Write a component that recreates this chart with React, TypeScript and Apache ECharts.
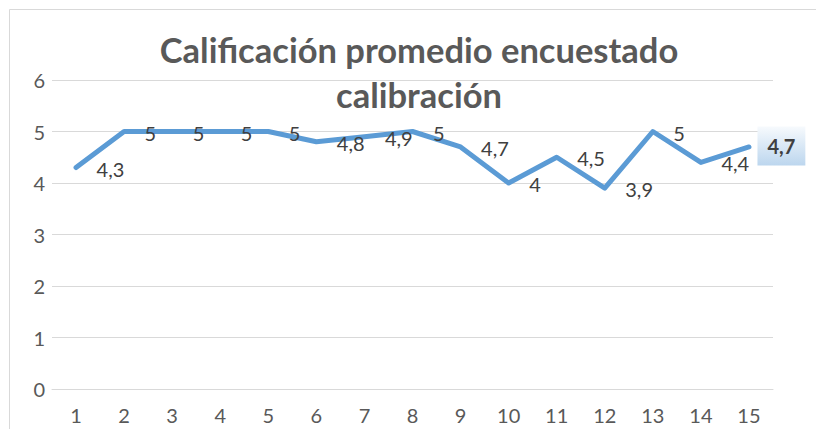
import React, { useEffect, useRef } from "react";
import * as echarts from "echarts";

const categories = ["1", "2", "3", "4", "5", "6", "7", "8", "9", "10", "11", "12", "13", "14", "15"];
const values = [4.3, 5, 5, 5, 5, 4.8, 4.9, 5, 4.7, 4, 4.5, 3.9, 5, 4.4, 4.7];
const yTicks = [0, 1, 2, 3, 4, 5, 6];
const titleText = "Calificación promedio encuestado\ncalibración";

const FONT = "Lato, 'Open Sans', sans-serif";

export default function App() {
  const ref = useRef<HTMLDivElement>(null);
  useEffect(() => {
    if (!ref.current) return;
    const chart = echarts.init(ref.current, undefined, { renderer: "svg" });
    const last = values.length - 1;
    const data = values.map((v, i) =>
      i === last
        ? {
            value: v,
            label: {
              fontWeight: "bold",
              color: "#404040",
              distance: 8,
              offset: [0, -1],
              padding: [10, 10, 9, 10],
              backgroundColor: {
                type: "linear",
                x: 0,
                y: 0,
                x2: 0,
                y2: 1,
                colorStops: [
                  { offset: 0, color: "#f7fafd" },
                  { offset: 1, color: "#bcd6ee" },
                ],
              },
            },
          }
        : v
    );
    chart.setOption({
      animation: false,
      backgroundColor: "#ffffff",
      textStyle: { fontFamily: FONT },
      title: {
        text: titleText,
        left: 414,
        textAlign: "center",
        top: 22,
        textStyle: {
          fontFamily: FONT,
          fontSize: 34.5,
          fontWeight: "bold",
          color: "#595959",
          lineHeight: 45,
        },
      },
      graphic: [
        {
          type: "rect",
          shape: { x: 9.5, y: 9.5, width: 900, height: 600 },
          style: { fill: "none", stroke: "#d9d9d9", lineWidth: 1 },
          silent: true,
          z: -10,
        },
      ],
      grid: { left: 52, right: 43, top: 80, bottom: 40, containLabel: false },
      xAxis: {
        type: "category",
        data: categories,
        boundaryGap: true,
        axisLine: { show: true, lineStyle: { color: "#d9d9d9", width: 1 } },
        axisTick: { show: false },
        axisLabel: { color: "#595959", fontSize: 20, margin: 16, fontFamily: FONT },
        splitLine: { show: false },
      },
      yAxis: {
        type: "value",
        min: yTicks[0],
        max: yTicks[yTicks.length - 1],
        interval: 1,
        axisLine: { show: false },
        axisTick: { show: false },
        axisLabel: { color: "#595959", fontSize: 20, margin: 7, fontFamily: FONT },
        splitLine: { lineStyle: { color: "#d9d9d9", width: 1 } },
      },
      series: [
        {
          type: "line",
          data,
          showSymbol: true,
          symbol: "circle",
          symbolSize: 1,
          itemStyle: { color: "#5b9bd5" },
          lineStyle: { color: "#5b9bd5", width: 5, cap: "round", join: "round" },
          label: {
            show: true,
            position: "right",
            distance: 20,
            offset: [0, 1],
            fontSize: 20,
            fontFamily: FONT,
            color: "#404040",
            formatter: (p: any) => String(p.value).replace(".", ","),
          },
        },
      ],
    });
    return () => chart.dispose();
  }, []);
  return (
    <div
      ref={ref}
      style={{ position: "fixed", left: 0, top: 0, width: 816, height: 429 }}
    />
  );
}
